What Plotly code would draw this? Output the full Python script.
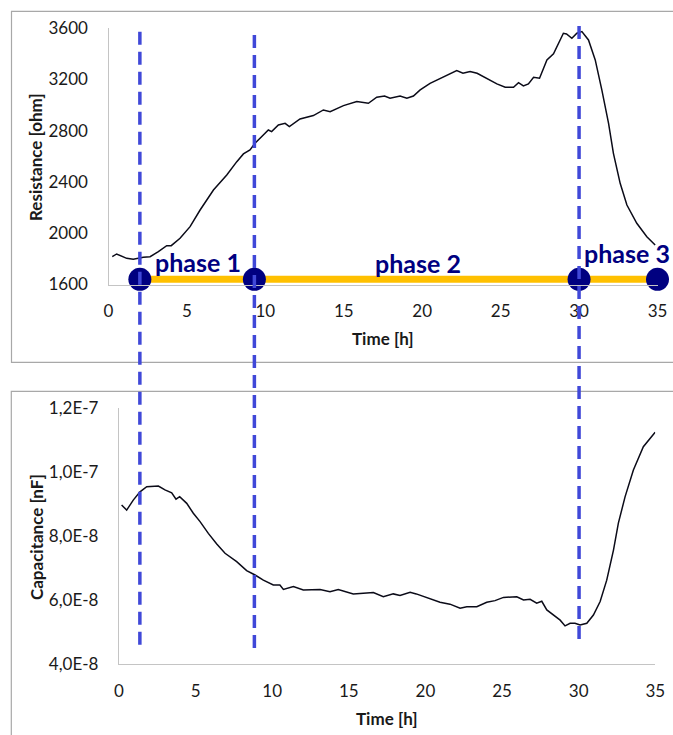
import plotly.graph_objects as go

# ---------------- data ----------------
res_time = [0.24, 0.52, 1.16, 1.58, 2.22, 2.65, 3.18, 3.71, 4.0, 4.56, 5.2, 5.84, 6.69, 7.54, 8.18, 8.6,
            9.02, 9.34, 9.87, 10.19, 10.4, 10.83, 11.26, 11.53, 12.21, 13.06, 13.7, 14.13, 14.98, 15.83,
            16.57, 17.1, 17.6, 17.95, 18.59, 19.02, 19.44, 19.87, 20.5, 21.14, 21.78, 22.2, 22.6, 23.05,
            23.5, 24.12, 24.76, 25.29, 25.82, 26.14, 26.45, 26.77, 27.1, 27.48, 27.73, 27.95, 28.37, 28.69,
            29.0, 29.2, 29.54, 29.86, 30.18, 30.6, 31.03, 31.45, 31.88, 32.19, 32.62, 33.05, 33.68, 34.32,
            34.85]
res_ohm = [1817, 1838, 1804, 1797, 1812, 1817, 1856, 1903, 1903, 1960, 2051, 2181, 2337, 2454, 2558, 2618,
           2649, 2701, 2766, 2805, 2792, 2844, 2857, 2831, 2891, 2917, 2961, 2948, 2995, 3026,
           3013, 3060, 3070, 3052, 3070, 3052, 3070, 3117, 3169, 3208, 3242, 3268, 3247, 3260,
           3247, 3203, 3164, 3138, 3138, 3174, 3148, 3164, 3216, 3208, 3286, 3351, 3398, 3481,
           3559, 3554, 3520, 3559, 3572, 3507, 3351, 3117, 2857, 2623, 2389, 2220, 2077, 1973,
           1908]

cap_time = [0.17, 0.5, 0.93, 1.37, 1.81, 2.57, 3.0, 3.44, 3.72, 3.96, 4.42, 4.85, 5.29, 5.83, 6.38, 6.92,
            7.68, 8.33, 8.88, 9.42, 10.07, 10.5, 10.73, 11.38, 12.03, 13.12, 13.77, 14.31, 15.29, 16.6,
            17.25, 17.9, 18.34, 19.0, 19.4, 20.08, 20.95, 21.6, 22.26, 22.7, 23.35, 24.0, 24.54, 25.09,
            25.96, 26.4, 26.83, 27.26, 27.59, 27.92, 28.35, 28.79, 29.11, 29.44, 29.76, 30.09, 30.53,
            30.96, 31.4, 31.83, 32.27, 32.59, 33.03, 33.57, 34.22, 34.99]
cap_nf = [8.98e-8, 8.82e-8, 9.13e-8, 9.39e-8, 9.55e-8, 9.57e-8, 9.45e-8, 9.36e-8, 9.16e-8, 9.24e-8,
          9.03e-8, 8.72e-8, 8.46e-8, 8.09e-8, 7.76e-8, 7.47e-8, 7.21e-8, 6.93e-8, 6.79e-8, 6.63e-8,
          6.48e-8, 6.48e-8, 6.34e-8, 6.43e-8, 6.32e-8, 6.34e-8, 6.27e-8, 6.34e-8, 6.20e-8, 6.24e-8,
          6.11e-8, 6.20e-8, 6.15e-8, 6.25e-8, 6.20e-8, 6.09e-8, 5.94e-8, 5.88e-8, 5.75e-8, 5.80e-8,
          5.80e-8, 5.94e-8, 5.99e-8, 6.09e-8, 6.11e-8, 6.01e-8, 6.03e-8, 5.91e-8, 5.97e-8, 5.70e-8,
          5.54e-8, 5.38e-8, 5.20e-8, 5.28e-8, 5.28e-8, 5.23e-8, 5.28e-8, 5.54e-8, 5.96e-8, 6.63e-8,
          7.57e-8, 8.41e-8, 9.24e-8, 10.07e-8, 10.8e-8, 11.25e-8]

phase_points = [2.0, 9.3, 30.0, 35.0]
phase_level = [1640, 1640, 1640, 1640]
phase_boundaries = [2.0, 9.3, 30.0]
phase_labels = ["phase 1", "phase 2", "phase 3"]
phase_label_x = [5.71, 19.7, 33.07]
phase_label_y = [1772, 1764, 1843]

time_ticks = [0, 5, 10, 15, 20, 25, 30, 35]
res_ticks = [1600, 2000, 2400, 2800, 3200, 3600]
cap_ticks = [4e-8, 6e-8, 8e-8, 1.0e-7, 1.2e-7]
cap_tick_labels = ["4,0E-8", "6,0E-8", "8,0E-8", "1,0E-7", "1,2E-7"]

# ---------------- geometry helpers ----------------
W, H = 673, 735
def px(x):
    return x / W
def py(y):
    return 1 - y / H

TICKFONT = dict(family="Lato, 'Open Sans', sans-serif", size=17, color="#1a1a1a")
TITLEFONT = dict(family="Lato, 'Open Sans', sans-serif", size=17, color="#1a1a1a")
AXISGRAY = "#c4c4c4"
DASHBLUE = "#4048d8"
NAVY = "#000080"

fig = go.Figure()

fig.add_trace(go.Scatter(x=res_time, y=res_ohm, mode="lines",
                         line=dict(color="#0b0b18", width=1.5),
                         xaxis="x", yaxis="y", showlegend=False, hoverinfo="skip"))
fig.add_trace(go.Scatter(x=phase_points, y=phase_level, mode="lines",
                         line=dict(color="#ffc000", width=7),
                         xaxis="x", yaxis="y", showlegend=False, cliponaxis=False))
fig.add_trace(go.Scatter(x=phase_points, y=phase_level, mode="markers",
                         marker=dict(color=NAVY, size=23),
                         xaxis="x", yaxis="y", showlegend=False, cliponaxis=False))
fig.add_trace(go.Scatter(x=cap_time, y=cap_nf, mode="lines",
                         line=dict(color="#0b0b18", width=1.5),
                         xaxis="x2", yaxis="y2", showlegend=False, hoverinfo="skip"))

common_x = dict(range=[0, 35], tickvals=time_ticks, showgrid=False, zeroline=False,
                showline=True, linecolor=AXISGRAY, linewidth=1.3, automargin=False,
                ticks="outside", ticklen=11, tickcolor="rgba(0,0,0,0)",
                ticklabeloverflow="allow",
                tickfont=TICKFONT, fixedrange=True)
common_y = dict(showgrid=False, zeroline=False, showline=True, linecolor=AXISGRAY, linewidth=1.3,
                automargin=False,
                ticks="outside", ticklen=16, tickcolor="rgba(0,0,0,0)",
                tickfont=TICKFONT, fixedrange=True)

fig.update_layout(
    template="none",
    width=W, height=H, autosize=False,
    margin=dict(l=0, r=0, t=0, b=0, pad=0),
    paper_bgcolor="white", plot_bgcolor="white",
    showlegend=False,
    xaxis=dict(domain=[px(108.5), px(657.5)], anchor="y", **common_x),
    yaxis=dict(domain=[py(284.5), py(28)], anchor="x", range=[1600, 3600], tickvals=res_ticks, **common_y),
    xaxis2=dict(domain=[px(119), px(655.3)], anchor="y2", **common_x),
    yaxis2=dict(domain=[py(664.3), py(408.3)], anchor="x2", range=[4e-8, 1.2e-7],
                tickvals=cap_ticks, ticktext=cap_tick_labels, **common_y),
)

shapes = []
# panel borders
shapes.append(dict(type="path", xref="paper", yref="paper",
                   path=f"M 1.05 {py(11.3)} L {px(11.5)} {py(11.3)} L {px(11.5)} {py(362.3)} L 1.05 {py(362.3)}",
                   line=dict(color="#a8a8a8", width=1.2)))
shapes.append(dict(type="path", xref="paper", yref="paper",
                   path=f"M 1.05 {py(391.3)} L {px(11.3)} {py(391.3)} L {px(11.3)} -0.05",
                   line=dict(color="#a8a8a8", width=1.2)))
# dashed phase boundaries spanning both panels
line_extent = [(31.7, 645), (35, 648), (26, 640)]
for xb, (ytop, ybot) in zip(phase_boundaries, line_extent):
    shapes.append(dict(type="line", xref="x", yref="paper", x0=xb, x1=xb,
                       y0=py(ytop), y1=py(ybot),
                       line=dict(color=DASHBLUE, width=3.5, dash="13px,7px"), layer="above"))
fig.update_layout(shapes=shapes)

ann = []
for lab, lx, ly in zip(phase_labels, phase_label_x, phase_label_y):
    ann.append(dict(x=lx, y=ly, xref="x", yref="y", text=f"<b>{lab}</b>", showarrow=False,
                    xanchor="center", yanchor="middle",
                    font=dict(family="Lato, 'Open Sans', sans-serif", size=25, color=NAVY)))
ann.append(dict(x=px(383), y=py(338), xref="paper", yref="paper", text="<b>Time [h]</b>",
                showarrow=False, xanchor="center", yanchor="middle", font=TITLEFONT))
ann.append(dict(x=px(387), y=py(718), xref="paper", yref="paper", text="<b>Time [h]</b>",
                showarrow=False, xanchor="center", yanchor="middle", font=TITLEFONT))
ann.append(dict(x=px(36), y=py(157), xref="paper", yref="paper", text="<b>Resistance [ohm]</b>",
                showarrow=False, textangle=-90, xanchor="center", yanchor="middle", font=TITLEFONT))
ann.append(dict(x=px(36), y=py(537), xref="paper", yref="paper", text="<b>Capacitance [nF]</b>",
                showarrow=False, textangle=-90, xanchor="center", yanchor="middle", font=TITLEFONT))
fig.update_layout(annotations=ann)

# remove the browser's default 8px body margin so the figure sits at the page origin
fig.write_html("out.html", config={"displayModeBar": False},
               post_script="document.body.style.margin='0';")
